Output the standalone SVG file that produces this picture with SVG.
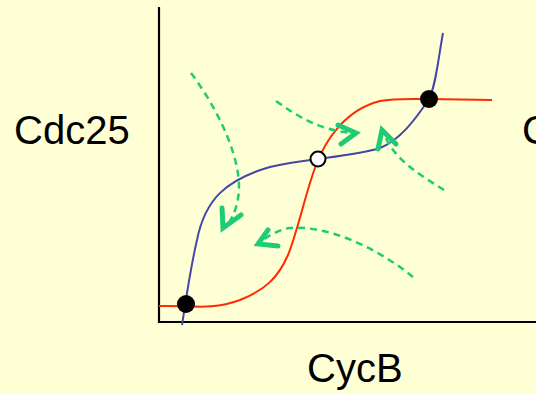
<svg xmlns="http://www.w3.org/2000/svg" width="536" height="394" viewBox="0 0 536 394">
<style>
.lbl{font-family:"Liberation Sans",Arial,sans-serif;font-size:40px;fill:#000}
.axis{stroke:#000;stroke-width:2.2;fill:none}
.red{stroke:#ff2a00;stroke-width:2;fill:none}
.blue{stroke:#4646a8;stroke-width:2;fill:none}
.traj{stroke:#1ecc78;stroke-width:2.5;fill:none;stroke-dasharray:7 5}
.head{stroke:#1ecc78;stroke-width:5;fill:none;stroke-linecap:round;stroke-linejoin:miter}
.ss{fill:#000}
.us{fill:#fff;stroke:#000;stroke-width:2}
</style>
<rect width="536" height="394" fill="#ffffd6"/>
<g id="axes">
<path class="axis" d="M159,7 V322 H536"/>
</g>
<g id="labels">
<text class="lbl" x="14" y="144">Cdc25</text>
<text class="lbl" x="307" y="382">CycB</text>
<text class="lbl" x="522" y="144">C</text>
</g>
<g id="nullclines">
<path id="red-nullcline" class="red" d="M159,306 C190,305 210,311 240,300 C265,290 278,278 288,255 C298,230 305,195 315,168 C325,140 345,110 380,101 C395,98 415,99 429,99 L492,100"/>
<path id="blue-nullcline" class="blue" d="M182,325 C186,300 190,270 197,240 C205,200 225,180 270,167 C290,162 310,160 318,159 C340,156 365,153 380,148 C400,140 415,120 429,99 C436,85 438,60 443,33"/>
</g>
<g id="connectors">
<path class="traj" d="M191,73 C215,105 238,150 239,185 C239,200 236,212 228,224"/>
<path class="head" d="M222,208 L223,228 L241,215"/>
<path class="traj" d="M413,277 C380,250 330,225 290,228 C278,230 268,236 262,241"/>
<path class="head" d="M268,230 L258,244 L278,246"/>
<path class="traj" d="M276,101 C300,118 320,130 352,133"/>
<path class="head" d="M338,125 L356,133 L341,144"/>
<path class="traj" d="M444,190 C420,175 395,160 385,136"/>
<path class="head" d="M378,149 L382,130 L396,144"/>
</g>
<g id="node-ss-low"><circle class="ss" cx="186" cy="304" r="9"/></g>
<g id="node-us"><circle class="us" cx="318" cy="159" r="7.5"/></g>
<g id="node-ss-high"><circle class="ss" cx="429" cy="99" r="9"/></g>
</svg>
